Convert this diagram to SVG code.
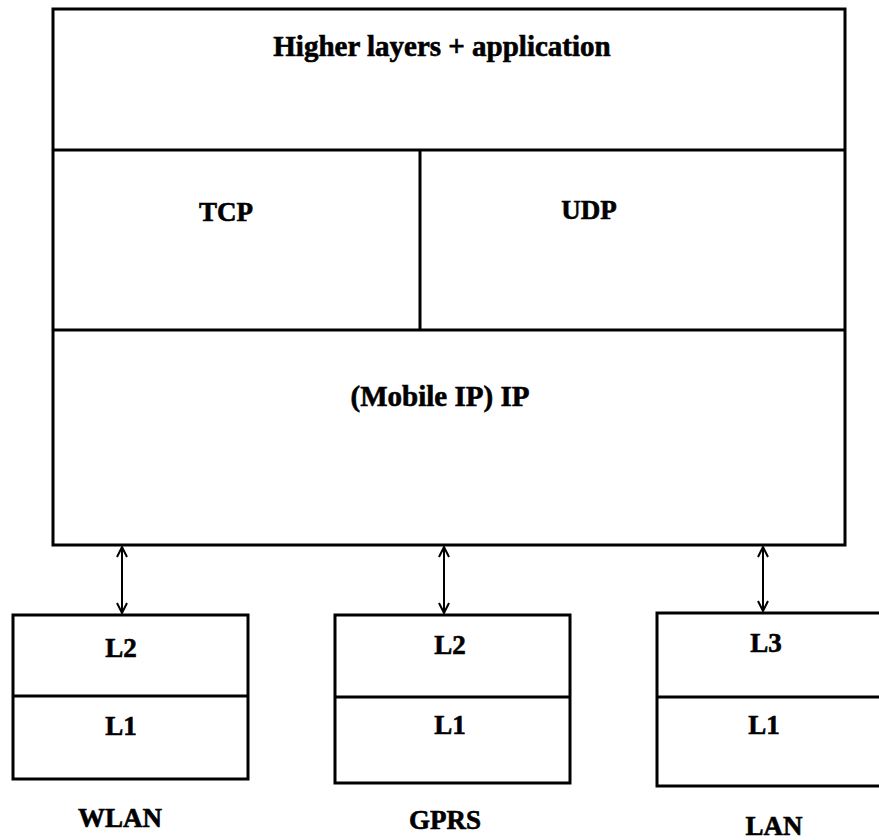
<svg xmlns="http://www.w3.org/2000/svg" width="879" height="840" viewBox="0 0 879 840">
  <style>
    .box { fill: #fff; stroke: #000; stroke-width: 3; }
    .sep { stroke: #000; stroke-width: 3; fill: none; }
    .lbl { font-family: "Liberation Serif", "Times New Roman", serif; font-weight: bold; font-size: 27px; fill: #000; stroke: #000; stroke-width: 0.6; text-anchor: middle; }
    .link { stroke: #000; stroke-width: 2; fill: none; marker-start: url(#head); marker-end: url(#head); }
  </style>
  <defs>
    <marker id="head" viewBox="0 0 12 12" refX="11" refY="6" markerWidth="12" markerHeight="12" markerUnits="userSpaceOnUse" orient="auto-start-reverse">
      <path d="M1,1 L11,6 L1,11" fill="none" stroke="#000" stroke-width="2"/>
    </marker>
  </defs>
  <rect width="879" height="840" fill="#fff"/>

  <!-- Host protocol stack -->
  <g id="stack">
    <rect class="box" x="53" y="9" width="792" height="536"/>
    <line class="sep" x1="53" y1="150" x2="845" y2="150"/>
    <line class="sep" x1="53" y1="330" x2="845" y2="330"/>
    <line class="sep" x1="420" y1="150" x2="420" y2="330"/>
  </g>
  <g id="higher">
    <text class="lbl" x="442" y="56" style="font-size:29px">Higher layers + application</text>
  </g>
  <g id="tcp">
    <text class="lbl" x="226" y="221">TCP</text>
  </g>
  <g id="udp">
    <text class="lbl" x="589" y="219">UDP</text>
  </g>
  <g id="ip">
    <text class="lbl" x="440" y="406" style="font-size:29px">(Mobile IP) IP</text>
  </g>

  <!-- Access networks -->
  <g id="wlan">
    <rect class="box" x="13" y="615" width="235" height="164"/>
    <line class="sep" x1="13" y1="696" x2="248" y2="696"/>
    <text class="lbl" x="121" y="657">L2</text>
    <text class="lbl" x="121" y="735">L1</text>
    <text class="lbl" x="120" y="827">WLAN</text>
  </g>
  <g id="gprs">
    <rect class="box" x="335" y="615" width="235" height="168"/>
    <line class="sep" x1="335" y1="697" x2="570" y2="697"/>
    <text class="lbl" x="450" y="654">L2</text>
    <text class="lbl" x="450" y="734">L1</text>
    <text class="lbl" x="445" y="829">GPRS</text>
  </g>
  <g id="lan">
    <rect class="box" x="657" y="613" width="226" height="173"/>
    <line class="sep" x1="657" y1="697" x2="883" y2="697"/>
    <text class="lbl" x="766" y="652">L3</text>
    <text class="lbl" x="764" y="734">L1</text>
    <text class="lbl" x="774" y="835">LAN</text>
  </g>

  <!-- Connectors -->
  <g id="connectors">
    <line class="link" x1="122" y1="547" x2="122" y2="613"/>
    <line class="link" x1="444" y1="547" x2="444" y2="613"/>
    <line class="link" x1="763" y1="547" x2="763" y2="611"/>
  </g>
</svg>
